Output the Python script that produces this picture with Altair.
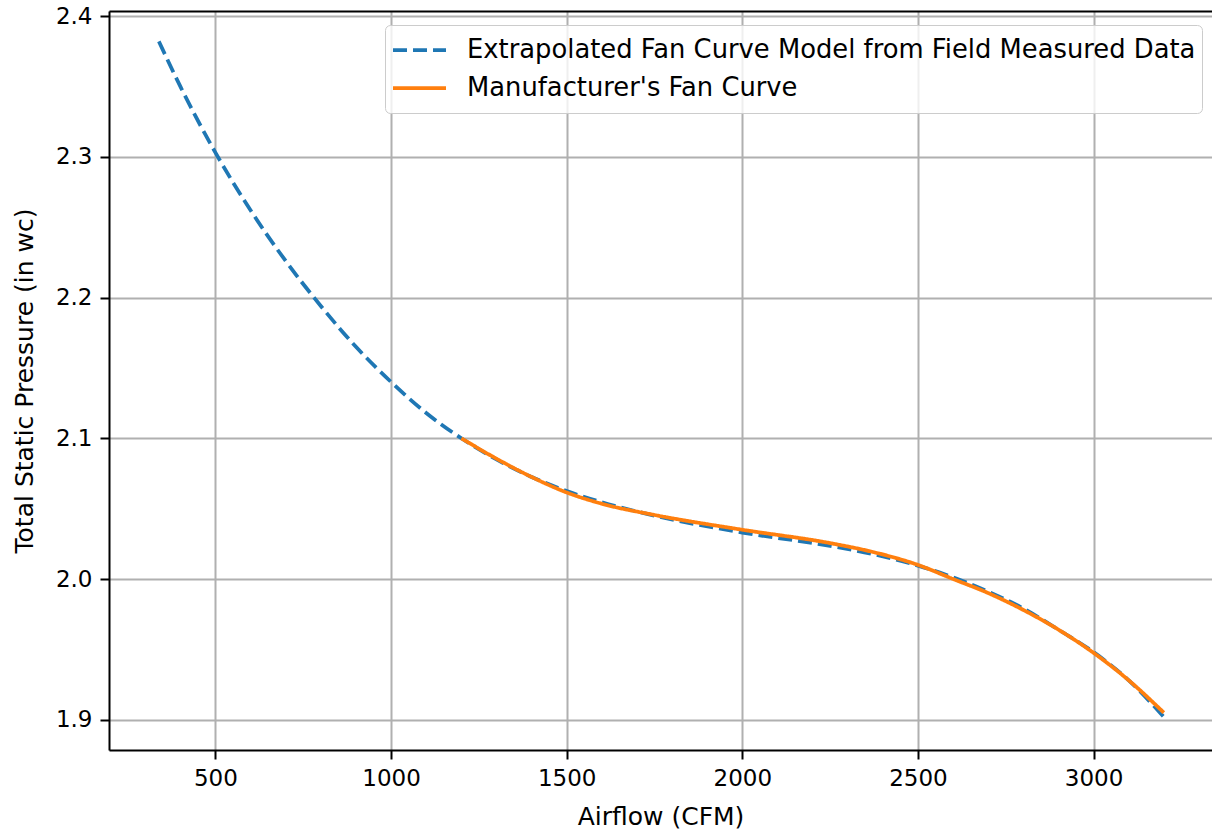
import altair as alt
import pandas as pd

# Extrapolated fan curve model (dashed, blue)
model_cfm = [339, 400, 500, 600, 700, 800, 900, 1000, 1100, 1200, 1300, 1400, 1500,
             1600, 1750, 2000, 2250, 2375, 2500, 2600, 2700, 2800, 2900, 3000, 3100, 3200]
model_tsp = [2.382, 2.350, 2.303, 2.262, 2.226, 2.194, 2.165, 2.140, 2.118, 2.100, 2.085,
             2.0725, 2.0625, 2.0545, 2.045, 2.033, 2.0235, 2.0175, 2.0095, 2.0012, 1.991,
             1.979, 1.964, 1.948, 1.928, 1.902]

# Manufacturer's fan curve (solid, orange)
mfr_cfm = [1200, 1300, 1400, 1500, 1600, 1750, 2000, 2250, 2375, 2500, 2600, 2700, 2800,
           2900, 3000, 3100, 3200]
mfr_tsp = [2.100, 2.0855, 2.0725, 2.0615, 2.0535, 2.0455, 2.035, 2.0255, 2.019, 2.010,
           2.000, 1.990, 1.978, 1.964, 1.9475, 1.928, 1.905]

series_names = ["Extrapolated Fan Curve Model from Field Measured Data",
                "Manufacturer's Fan Curve"]
x_ticks = [500, 1000, 1500, 2000, 2500, 3000]
y_ticks = [1.9, 2.0, 2.1, 2.2, 2.3, 2.4]

df = pd.concat([
    pd.DataFrame({"cfm": model_cfm, "tsp": model_tsp, "series": series_names[0], "ord": range(len(model_cfm))}),
    pd.DataFrame({"cfm": mfr_cfm, "tsp": mfr_tsp, "series": series_names[1], "ord": range(len(mfr_cfm))}),
])

FONT = "DejaVu Sans"
xscale = alt.Scale(domain=[197, 3337], nice=False, zero=False)
yscale = alt.Scale(domain=[1.8785, 2.4036], nice=False, zero=False)

lines = alt.Chart(df).mark_line(strokeWidth=3.75, interpolate="monotone", strokeCap="butt").encode(
    x=alt.X("cfm:Q", scale=xscale,
            axis=alt.Axis(title="Airflow (CFM)", values=x_ticks, format="d",
                          grid=True, gridColor="#b0b0b0", gridWidth=2,
                          domain=True, domainColor="#000", domainWidth=2,
                          ticks=True, tickColor="#000", tickWidth=2, tickSize=9,
                          labelFont=FONT, labelFontSize=23, labelColor="#000", labelPadding=8,
                          titleFont=FONT, titleFontSize=25, titleFontWeight="normal",
                          titleColor="#000", titlePadding=14, labelFlush=False)),
    y=alt.Y("tsp:Q", scale=yscale,
            axis=alt.Axis(title="Total Static Pressure (in wc)", values=y_ticks, format=".1f",
                          grid=True, gridColor="#b0b0b0", gridWidth=2,
                          domain=True, domainColor="#000", domainWidth=2,
                          ticks=True, tickColor="#000", tickWidth=2, tickSize=9,
                          labelFont=FONT, labelFontSize=23, labelColor="#000", labelPadding=8,
                          titleFont=FONT, titleFontSize=25, titleFontWeight="normal",
                          titleColor="#000", titlePadding=18, labelFlush=False)),
    color=alt.Color("series:N",
                    scale=alt.Scale(domain=series_names, range=["#1f77b4", "#ff7f0e"]),
                    legend=alt.Legend(title=None, orient="none", legendX=276, legendY=14,
                                      symbolType="stroke", symbolSize=2809,
                                      symbolStrokeWidth=3.75,
                                      labelFont=FONT, labelFontSize=25.8, labelColor="#000",
                                      labelLimit=2000, labelOffset=19,
                                      clipHeight=38, rowPadding=0,
                                      padding=6, fillColor="rgba(255,255,255,0.8)",
                                      strokeColor="#cccccc", cornerRadius=5)),
    strokeDash=alt.StrokeDash("series:N",
                              scale=alt.Scale(domain=series_names, range=[[14, 6], [1, 0]]),
                              legend=None),
    order="ord:Q",
)

top_frame = alt.Chart(df).mark_line(opacity=0).encode(
    x=alt.X("cfm:Q", scale=xscale,
            axis=alt.Axis(orient="top", labels=False, ticks=False, grid=False, title=None,
                          domain=True, domainColor="#000", domainWidth=2)),
    y=alt.Y("tsp:Q", scale=yscale, axis=None),
)

chart = alt.layer(lines, top_frame).resolve_axis(x="independent", y="independent").properties(
    width=1103, height=739,
    autosize=alt.AutoSizeParams(type="none"),
    padding={"left": 109, "top": 11, "right": 0, "bottom": 82},
).configure_view(stroke=None).configure(background="white")

chart.save("out.html", embed_options={"renderer": "svg", "actions": False})
